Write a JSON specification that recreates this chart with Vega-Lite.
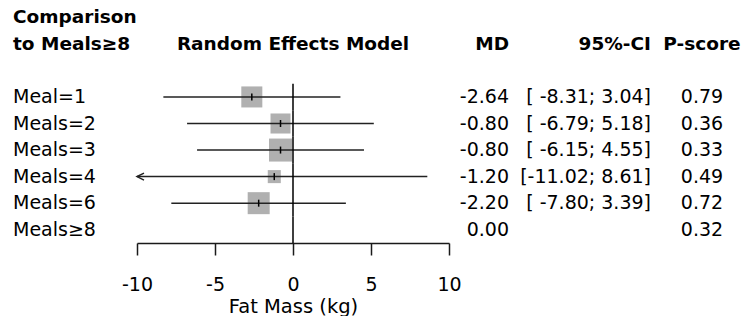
{
  "$schema": "https://vega.github.io/schema/vega-lite/v6.json",
  "width": 744,
  "height": 243,
  "padding": 0,
  "background": "white",
  "config": {
    "view": {"stroke": null},
    "font": "DejaVu Sans",
    "text": {"font": "DejaVu Sans", "fontSize": 19, "color": "black", "baseline": "middle"},
    "axisX": {
      "domainColor": "#1a1a1a", "domainWidth": 1.5, "tickColor": "#1a1a1a", "tickWidth": 1.5, "tickSize": 12,
      "labelFont": "DejaVu Sans", "labelFontSize": 19, "labelColor": "black", "labelPadding": 20, "labelFlush": false,
      "titleFont": "DejaVu Sans", "titleFontSize": 19.5, "titleFontWeight": "normal", "titleColor": "black", "titlePadding": 3,
      "grid": false
    },
    "locale": {"number": {"decimal": ".", "thousands": ",", "grouping": [3], "currency": ["$", ""], "minus": "-"}}
  },
  "datasets": {
    "rows": [
      {"label": "Meal=1", "md": -2.64, "lo": -8.31, "hi": 3.04, "ci": "[ -8.31; 3.04]", "p": 0.79, "w": 21.8},
      {"label": "Meals=2", "md": -0.80, "lo": -6.79, "hi": 5.18, "ci": "[ -6.79; 5.18]", "p": 0.36, "w": 19.8},
      {"label": "Meals=3", "md": -0.80, "lo": -6.15, "hi": 4.55, "ci": "[ -6.15; 4.55]", "p": 0.33, "w": 26.1},
      {"label": "Meals=4", "md": -1.20, "lo": -11.02, "hi": 8.61, "ci": "[-11.02; 8.61]", "p": 0.49, "w": 8.4},
      {"label": "Meals=6", "md": -2.20, "lo": -7.80, "hi": 3.39, "ci": "[ -7.80; 3.39]", "p": 0.72, "w": 23.9},
      {"label": "Meals≥8", "md": 0.00, "lo": null, "hi": null, "ci": "", "p": 0.32, "w": null}
    ]
  },
  "data": {"name": "rows"},
  "encoding": {
    "y": {
      "field": "label", "type": "nominal",
      "scale": {"type": "band", "domain": ["h1", "h2", "gap", "Meal=1", "Meals=2", "Meals=3", "Meals=4", "Meals=6", "Meals≥8"], "range": [4, 243], "paddingInner": 0, "paddingOuter": 0},
      "axis": null
    }
  },
  "resolve": {"scale": {"x": "independent"}},
  "layer": [
    {
      "layer": [
        {
          "transform": [{"filter": "datum.w != null"}],
          "mark": {"type": "point", "shape": "square", "filled": true, "color": "#b0b0b0", "opacity": 1},
          "encoding": {
            "x": {"field": "md", "type": "quantitative", "scale": {"domain": [-10, 10], "range": [137, 449], "nice": false, "zero": false, "clamp": true}, "axis": {"values": [-10, -5, 0, 5, 10], "title": "Fat Mass (kg)"}},
            "size": {"field": "w", "type": "quantitative", "scale": {"domain": [0, 26.1], "range": [0, 529], "zero": true}, "legend": null}
          }
        },
        {
          "transform": [{"filter": "datum.lo != null"}],
          "mark": {"type": "rule", "color": "#222222", "strokeWidth": 1.5},
          "encoding": {
            "x": {"field": "lo", "type": "quantitative", "scale": {"domain": [-10, 10], "range": [137, 449], "nice": false, "zero": false, "clamp": true}, "axis": {"values": [-10, -5, 0, 5, 10], "title": "Fat Mass (kg)"}},
            "x2": {"field": "hi"}
          }
        },
        {
          "transform": [{"filter": "datum.w != null"}],
          "mark": {"type": "tick", "color": "black", "size": 7, "thickness": 1.5, "opacity": 1},
          "encoding": {
            "x": {"field": "md", "type": "quantitative", "scale": {"domain": [-10, 10], "range": [137, 449], "nice": false, "zero": false, "clamp": true}, "axis": {"values": [-10, -5, 0, 5, 10], "title": "Fat Mass (kg)"}}
          }
        },
        {
          "transform": [{"filter": "datum.lo != null && datum.lo < -10"}],
          "mark": {"type": "point", "shape": "M2,-1L0,0L2,1", "filled": false, "color": "#222222", "strokeWidth": 1.5, "size": 49, "opacity": 1},
          "encoding": {
            "x": {"field": "lo", "type": "quantitative", "scale": {"domain": [-10, 10], "range": [137, 449], "nice": false, "zero": false, "clamp": true}, "axis": {"values": [-10, -5, 0, 5, 10], "title": "Fat Mass (kg)"}}
          }
        },
        {
          "mark": {"type": "rect", "stroke": "black", "strokeWidth": 1.5, "fill": null},
          "encoding": {
            "x": {"datum": 0, "type": "quantitative", "scale": {"domain": [-10, 10], "range": [137, 449], "nice": false, "zero": false, "clamp": true}, "axis": {"values": [-10, -5, 0, 5, 10], "title": "Fat Mass (kg)"}},
            "x2": {"datum": 0}
          }
        },
        {
          "data": {"values": [{"t": "Random Effects Model"}]},
          "mark": {"type": "text", "align": "center", "fontWeight": "bold", "fontSize": 18.5},
          "encoding": {
            "x": {"datum": 0, "type": "quantitative", "scale": {"domain": [-10, 10], "range": [137, 449], "nice": false, "zero": false, "clamp": true}, "axis": {"values": [-10, -5, 0, 5, 10], "title": "Fat Mass (kg)"}},
            "y": {"datum": "h2", "type": "nominal"},
            "text": {"field": "t"}
          }
        }
      ]
    },
    {
      "layer": [
        {
          "mark": {"type": "text", "align": "left"},
          "encoding": {
            "x": {"datum": 0, "type": "quantitative", "scale": {"domain": [0, 1, 2, 3], "range": [13, 509, 651, 702], "nice": false, "zero": false}, "axis": null},
            "text": {"field": "label"}
          }
        },
        {
          "mark": {"type": "text", "align": "right"},
          "encoding": {
            "x": {"datum": 1, "type": "quantitative", "scale": {"domain": [0, 1, 2, 3], "range": [13, 509, 651, 702], "nice": false, "zero": false}, "axis": null},
            "text": {"field": "md", "format": ".2f"}
          }
        },
        {
          "mark": {"type": "text", "align": "right"},
          "encoding": {
            "x": {"datum": 2, "type": "quantitative", "scale": {"domain": [0, 1, 2, 3], "range": [13, 509, 651, 702], "nice": false, "zero": false}, "axis": null},
            "text": {"field": "ci"}
          }
        },
        {
          "mark": {"type": "text", "align": "center"},
          "encoding": {
            "x": {"datum": 3, "type": "quantitative", "scale": {"domain": [0, 1, 2, 3], "range": [13, 509, 651, 702], "nice": false, "zero": false}, "axis": null},
            "text": {"field": "p", "format": ".2f"}
          }
        },
        {
          "data": {"values": [{"t": "Comparison", "row": "h1"}, {"t": "to Meals≥8", "row": "h2"}]},
          "mark": {"type": "text", "align": "left", "fontWeight": "bold", "fontSize": 18.5},
          "encoding": {
            "x": {"datum": 0, "type": "quantitative", "scale": {"domain": [0, 1, 2, 3], "range": [13, 509, 651, 702], "nice": false, "zero": false}, "axis": null},
            "y": {"field": "row", "type": "nominal"},
            "text": {"field": "t"}
          }
        },
        {
          "data": {"values": [{"t": "MD"}]},
          "mark": {"type": "text", "align": "right", "fontWeight": "bold", "fontSize": 18.5},
          "encoding": {
            "x": {"datum": 1, "type": "quantitative", "scale": {"domain": [0, 1, 2, 3], "range": [13, 509, 651, 702], "nice": false, "zero": false}, "axis": null},
            "y": {"datum": "h2", "type": "nominal"},
            "text": {"field": "t"}
          }
        },
        {
          "data": {"values": [{"t": "95%-CI"}]},
          "mark": {"type": "text", "align": "right", "fontWeight": "bold", "fontSize": 18.5},
          "encoding": {
            "x": {"datum": 2, "type": "quantitative", "scale": {"domain": [0, 1, 2, 3], "range": [13, 509, 651, 702], "nice": false, "zero": false}, "axis": null},
            "y": {"datum": "h2", "type": "nominal"},
            "text": {"field": "t"}
          }
        },
        {
          "data": {"values": [{"t": "P-score"}]},
          "mark": {"type": "text", "align": "center", "fontWeight": "bold", "fontSize": 18.5},
          "encoding": {
            "x": {"datum": 3, "type": "quantitative", "scale": {"domain": [0, 1, 2, 3], "range": [13, 509, 651, 702], "nice": false, "zero": false}, "axis": null},
            "y": {"datum": "h2", "type": "nominal"},
            "text": {"field": "t"}
          }
        }
      ]
    }
  ]
}
